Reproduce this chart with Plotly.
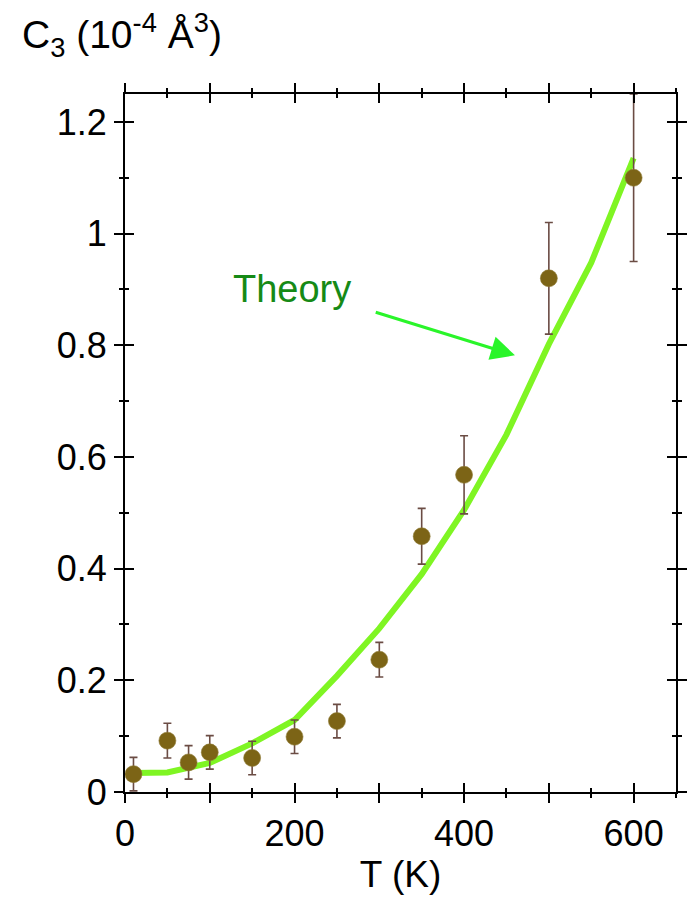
import plotly.graph_objects as go

# Measured third-order cumulant C3 versus temperature
temp_k = [10, 50, 75, 100, 150, 200, 250, 300, 350, 400, 500, 600]
c3_meas = [0.032, 0.092, 0.053, 0.071, 0.061, 0.099, 0.127, 0.237, 0.458, 0.568, 0.920, 1.100]
c3_err = [0.030, 0.031, 0.030, 0.030, 0.030, 0.030, 0.030, 0.031, 0.050, 0.070, 0.100, 0.150]

# Theoretical curve
theory_t = [10, 50, 100, 150, 200, 250, 300, 350, 400, 450, 500, 550, 600]
theory_c3 = [0.034, 0.035, 0.052, 0.087, 0.129, 0.208, 0.293, 0.390, 0.505, 0.640, 0.802, 0.948, 1.135]

x_tickvals = [0, 100, 200, 300, 400, 500, 600]
x_ticktext = ["0", "", "200", "", "400", "", "600"]
y_tickvals = [0, 0.2, 0.4, 0.6, 0.8, 1.0, 1.2]
y_ticktext = ["0", "0.2", "0.4", "0.6", "0.8", "1", "1.2"]

FONT = "Liberation Sans, Arial, sans-serif"
X_RANGE = [0, 650]
Y_RANGE = [0, 1.25]

fig = go.Figure()

fig.add_trace(go.Scatter(
    x=theory_t, y=theory_c3, mode="lines",
    line=dict(color="#7ff523", width=6),
    hoverinfo="skip", showlegend=False,
))

fig.add_trace(go.Scatter(
    x=temp_k, y=c3_meas, mode="markers",
    marker=dict(size=17, color="#7c6416", line=dict(color="#8f7a35", width=0.6)),
    error_y=dict(type="data", array=c3_err, visible=True,
                 color="#6b4c44", thickness=1.6, width=4),
    showlegend=False,
))

# Empty trace on the overlay axes that carry the inward half of each tick
fig.add_trace(go.Scatter(x=[None], y=[None], xaxis="x2", yaxis="y2",
                         showlegend=False, hoverinfo="skip"))

axis_common = dict(showgrid=False, zeroline=False, showline=True,
                   linecolor="black", linewidth=2, mirror="allticks",
                   tickcolor="black", tickwidth=2, ticklen=9)

fig.update_layout(
    width=698, height=899,
    autosize=False,
    margin=dict(l=125, r=11, t=94, b=102),
    paper_bgcolor="white", plot_bgcolor="white",
    font=dict(family=FONT, size=36, color="black"),
    xaxis=dict(range=X_RANGE, tickmode="array", tickvals=x_tickvals,
               ticktext=x_ticktext, ticks="outside",
               minor=dict(dtick=50, tick0=0, ticks="outside", ticklen=4,
                          tickwidth=1.5, tickcolor="black"),
               title=dict(text="T (K)", standoff=8, font=dict(size=37)),
               tickfont=dict(size=36), **axis_common),
    yaxis=dict(range=Y_RANGE, tickmode="array", tickvals=y_tickvals,
               ticktext=y_ticktext, ticks="outside",
               minor=dict(dtick=0.1, tick0=0, ticks="outside", ticklen=4,
                          tickwidth=1.5, tickcolor="black"),
               tickfont=dict(size=36), **axis_common),
    xaxis2=dict(range=X_RANGE, overlaying="x", anchor="y2", tickmode="array",
                tickvals=x_tickvals, ticks="inside", showticklabels=False,
                minor=dict(dtick=50, tick0=0, ticks="inside", ticklen=4,
                           tickwidth=1.5, tickcolor="black"),
                **axis_common),
    yaxis2=dict(range=Y_RANGE, overlaying="y", anchor="x2", tickmode="array",
                tickvals=y_tickvals, ticks="inside", showticklabels=False,
                minor=dict(dtick=0.1, tick0=0, ticks="inside", ticklen=4,
                           tickwidth=1.5, tickcolor="black"),
                **axis_common),
)

# Y-axis label above the frame
fig.add_annotation(
    text="C<sub>3</sub>\u00a0(10<sup>-4</sup>\u00a0Å<sup>3</sup>)",
    xref="paper", yref="paper", x=-0.19, y=1.128,
    xanchor="left", yanchor="top", showarrow=False,
    font=dict(family=FONT, size=39, color="black"),
)

# "Theory" label with pointer arrow
fig.add_annotation(
    text="Theory", xref="x", yref="y", x=125, y=0.9,
    xanchor="left", yanchor="middle", showarrow=False,
    font=dict(family=FONT, size=38, color="#168a16"),
)
fig.add_annotation(
    x=460, y=0.782, ax=294, ay=0.860,
    xref="x", yref="y", axref="x", ayref="y",
    text="", showarrow=True, arrowhead=2, arrowsize=1.6,
    arrowwidth=3, arrowcolor="#2af52a",
)

fig.write_html("out.html", config={"responsive": False})
